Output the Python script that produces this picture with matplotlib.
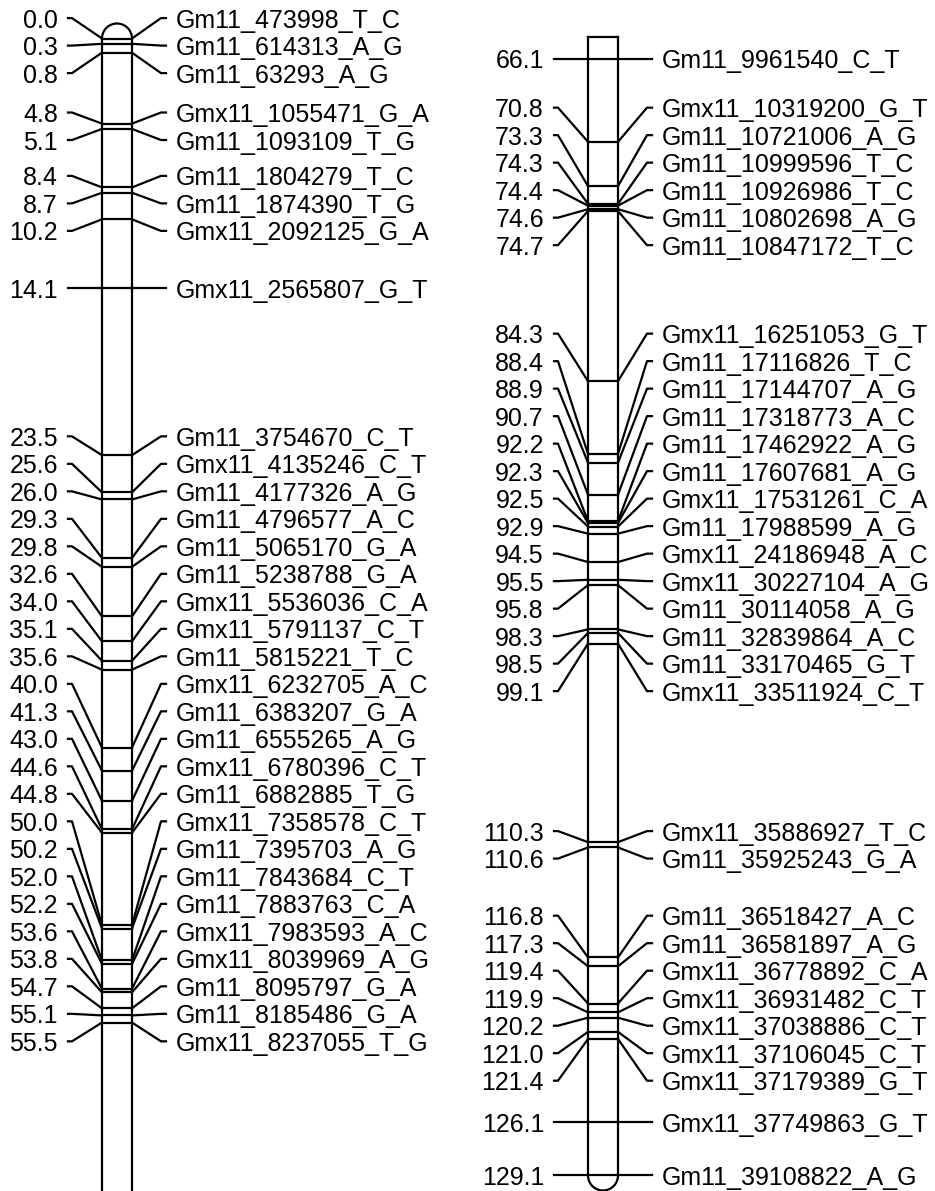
import matplotlib.pyplot as plt
from matplotlib.patches import Arc

# marker positions (cM) and names along chromosome 11
positions = [0.0, 0.3, 0.8, 4.8, 5.1, 8.4, 8.7, 10.2, 14.1,
             23.5, 25.6, 26.0, 29.3, 29.8, 32.6, 34.0, 35.1, 35.6,
             40.0, 41.3, 43.0, 44.6, 44.8, 50.0, 50.2, 52.0, 52.2,
             53.6, 53.8, 54.7, 55.1, 55.5,
             66.1, 70.8, 73.3, 74.3, 74.4, 74.6, 74.7,
             84.3, 88.4, 88.9, 90.7, 92.2, 92.3, 92.5, 92.9, 94.5,
             95.5, 95.8, 98.3, 98.5, 99.1,
             110.3, 110.6, 116.8, 117.3, 119.4, 119.9, 120.2, 121.0,
             121.4, 126.1, 129.1]
names = ["Gm11_473998_T_C", "Gm11_614313_A_G", "Gm11_63293_A_G",
         "Gmx11_1055471_G_A", "Gm11_1093109_T_G", "Gm11_1804279_T_C",
         "Gm11_1874390_T_G", "Gmx11_2092125_G_A", "Gmx11_2565807_G_T",
         "Gm11_3754670_C_T", "Gmx11_4135246_C_T", "Gm11_4177326_A_G",
         "Gm11_4796577_A_C", "Gm11_5065170_G_A", "Gm11_5238788_G_A",
         "Gmx11_5536036_C_A", "Gmx11_5791137_C_T", "Gm11_5815221_T_C",
         "Gmx11_6232705_A_C", "Gm11_6383207_G_A", "Gm11_6555265_A_G",
         "Gmx11_6780396_C_T", "Gm11_6882885_T_G", "Gmx11_7358578_C_T",
         "Gm11_7395703_A_G", "Gm11_7843684_C_T", "Gm11_7883763_C_A",
         "Gmx11_7983593_A_C", "Gmx11_8039969_A_G", "Gm11_8095797_G_A",
         "Gm11_8185486_G_A", "Gmx11_8237055_T_G",
         "Gm11_9961540_C_T", "Gmx11_10319200_G_T", "Gm11_10721006_A_G",
         "Gm11_10999596_T_C", "Gm11_10926986_T_C", "Gm11_10802698_A_G",
         "Gm11_10847172_T_C",
         "Gmx11_16251053_G_T", "Gm11_17116826_T_C", "Gm11_17144707_A_G",
         "Gm11_17318773_A_C", "Gm11_17462922_A_G", "Gm11_17607681_A_G",
         "Gmx11_17531261_C_A", "Gm11_17988599_A_G", "Gmx11_24186948_A_C",
         "Gmx11_30227104_A_G", "Gm11_30114058_A_G", "Gm11_32839864_A_C",
         "Gm11_33170465_G_T", "Gmx11_33511924_C_T",
         "Gmx11_35886927_T_C", "Gm11_35925243_G_A",
         "Gm11_36518427_A_C", "Gm11_36581897_A_G", "Gmx11_36778892_C_A",
         "Gmx11_36931482_C_T", "Gmx11_37038886_C_T", "Gmx11_37106045_C_T",
         "Gmx11_37179389_G_T", "Gmx11_37749863_G_T", "Gm11_39108822_A_G"]

# the map is split in two columns at this position
split_at = 65.0

W, H = 935, 1191
PX_PER_CM = 17.73
GAP = 27.5 / PX_PER_CM   # minimum label spacing in cM
LW = 1.6
FS = 18

plt.rcParams['font.family'] = ['Liberation Sans', 'DejaVu Sans']


def spread(pos, gap):
    # push overlapping labels apart, each group centred on its outer markers
    groups = [[i] for i in range(len(pos))]
    while True:
        centers = [(pos[g[0]] + pos[g[-1]]) / 2 for g in groups]
        merged = False
        for k in range(len(groups) - 1):
            end = centers[k] + (len(groups[k]) - 1) / 2 * gap
            start = centers[k + 1] - (len(groups[k + 1]) - 1) / 2 * gap
            if start - end < gap - 1e-9:
                groups[k] = groups[k] + groups.pop(k + 1)
                merged = True
                break
        if not merged:
            break
    out = [0.0] * len(pos)
    for g, c in zip(groups, centers):
        for j, i in enumerate(g):
            out[i] = c + (j - (len(g) - 1) / 2) * gap
    return out


def draw_panel(ax, pos, labels, dx, top_end, bottom_end, round_top, round_bottom):
    xl, xr = 102 + dx, 132 + dx
    xc = (xl + xr) / 2
    r = (xr - xl) / 2
    lab = spread(pos, GAP)

    # chromosome outline (y axis is inverted, so angles run the other way)
    ax.plot([xl, xl], [top_end, bottom_end], color='black', lw=LW)
    ax.plot([xr, xr], [top_end, bottom_end], color='black', lw=LW)
    if round_top:
        ax.add_patch(Arc((xc, top_end), xr - xl, 2 * r / PX_PER_CM,
                         theta1=180, theta2=360, color='black', lw=LW))
    else:
        ax.plot([xl, xr], [top_end, top_end], color='black', lw=LW)
    if round_bottom:
        ax.add_patch(Arc((xc, bottom_end), xr - xl, 2 * r / PX_PER_CM,
                         theta1=0, theta2=180, color='black', lw=LW))

    for p, lp, name in zip(pos, lab, labels):
        ax.plot([xl, xr], [p, p], color='black', lw=LW)
        ax.plot([68 + dx, 72 + dx, xl], [lp, lp, p], color='black', lw=LW)
        ax.plot([xr, 161 + dx, 166 + dx], [p, lp, lp], color='black', lw=LW)
        ax.text(58 + dx, lp, f"{p:.1f}", ha='right', va='center_baseline',
                fontsize=FS)
        ax.text(176 + dx, lp, name, ha='left', va='center_baseline',
                fontsize=FS)


fig = plt.figure(figsize=(W / 100, H / 100), dpi=100)

left_pos = [p for p in positions if p < split_at]
left_names = [n for p, n in zip(positions, names) if p < split_at]
right_pos = [p for p in positions if p >= split_at]
right_names = [n for p, n in zip(positions, names) if p >= split_at]

# left column: 0.0 sits 38.5 px from the top
ax1 = fig.add_axes([0, 0, 1, 1])
top1 = left_pos[0] - 38.5 / PX_PER_CM
ax1.set_xlim(0, W)
ax1.set_ylim(top1 + H / PX_PER_CM, top1)
draw_panel(ax1, left_pos, left_names, 0, left_pos[0], split_at + 1,
           True, False)
ax1.axis('off')

# right column: first marker sits 58.5 px from the top
ax2 = fig.add_axes([0, 0, 1, 1])
ax2.patch.set_alpha(0)
top2 = right_pos[0] - 58.5 / PX_PER_CM
ax2.set_xlim(0, W)
ax2.set_ylim(top2 + H / PX_PER_CM, top2)
draw_panel(ax2, right_pos, right_names, 486, split_at - 0.1, right_pos[-1],
           False, True)
ax2.axis('off')

fig.savefig('out.png', dpi=100)
